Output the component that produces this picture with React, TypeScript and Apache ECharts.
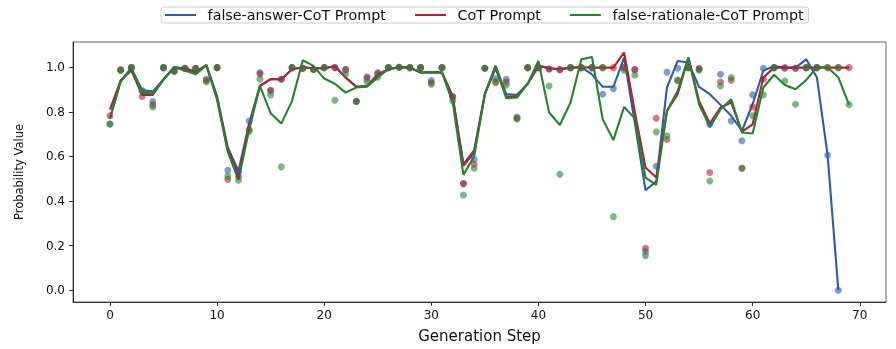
import React, { useEffect, useRef } from "react";
import * as echarts from "echarts";

const steps = [0,1,2,3,4,5,6,7,8,9,10,11,12,13,14,15,16,17,18,19,20,21,22,23,24,25,26,27,28,29,30,31,32,33,34,35,36,37,38,39,40,41,42,43,44,45,46,47,48,49,50,51,52,53,54,55,56,57,58,59,60,61,62,63,64,65,66,67,68,69];

const seriesNames = ["false-answer-CoT Prompt", "CoT Prompt", "false-rationale-CoT Prompt"];
const xTicks = [0, 10, 20, 30, 40, 50, 60, 70];
const yTicks = [0, 0.2, 0.4, 0.6, 0.8, 1.0];

// smoothed lines
const lineAnswer = [0.77,0.94,0.995,0.897,0.891,0.945,1.0,0.993,0.975,1.009,0.87,0.64,0.535,0.75,0.916,0.946,0.946,0.991,1.0,0.995,0.995,1.004,0.954,0.912,0.916,0.968,0.991,1.0,0.998,0.976,0.978,0.976,0.87,0.565,0.628,0.879,1.006,0.879,0.876,0.926,1.005,0.995,0.991,0.998,1.0,0.968,0.912,0.912,1.043,0.75,0.448,0.488,0.909,1.028,1.021,0.912,0.879,0.831,0.782,0.715,0.834,0.985,1.004,0.998,0.998,1.035,0.954,0.605,0.0];
const lineCot = [0.81,0.94,0.985,0.876,0.876,0.945,1.0,0.995,0.98,1.009,0.86,0.63,0.514,0.74,0.916,0.946,0.946,0.991,1.0,0.995,0.995,1.004,0.954,0.912,0.916,0.965,0.991,1.0,0.998,0.976,0.978,0.976,0.864,0.558,0.617,0.879,0.995,0.868,0.868,0.926,1.007,0.995,0.991,0.998,1.0,0.998,0.998,0.998,1.066,0.8,0.55,0.505,0.804,0.879,1.043,0.849,0.748,0.819,0.841,0.711,0.744,0.954,0.998,0.998,0.998,0.998,0.998,0.998,0.998,0.998];
const lineRationale = [0.77,0.935,0.995,0.886,0.882,0.945,1.0,0.985,0.968,1.009,0.855,0.62,0.495,0.72,0.916,0.794,0.747,0.849,1.031,1.006,0.949,0.926,0.886,0.909,0.912,0.954,0.991,1.0,0.998,0.976,0.978,0.976,0.841,0.517,0.6,0.879,1.006,0.861,0.864,0.926,1.028,0.797,0.741,0.842,1.035,1.046,0.767,0.673,0.822,0.77,0.505,0.472,0.804,0.894,1.043,0.834,0.731,0.811,0.856,0.707,0.703,0.909,0.966,0.92,0.901,0.942,1.0,1.0,0.954,0.832];

// raw points
const dotsAnswer = [0.745,0.988,0.998,0.894,0.846,0.998,0.982,0.995,0.995,0.946,0.998,0.538,0.53,0.759,0.976,0.894,0.946,0.998,0.995,0.99,0.998,0.998,0.989,0.848,0.957,0.976,0.998,1.0,0.998,0.998,0.94,0.998,0.867,0.478,0.587,0.995,0.949,0.946,0.777,0.998,0.998,0.992,0.989,0.998,0.998,0.998,0.879,0.904,0.998,0.99,0.173,0.556,0.978,0.995,0.998,0.995,0.744,0.968,0.759,0.67,0.876,0.995,0.998,0.995,0.995,0.998,0.998,0.605,0.0];
const dotsCot = [0.782,0.988,0.998,0.869,0.831,0.998,0.982,0.995,0.995,0.94,0.998,0.497,0.51,0.72,0.969,0.897,0.946,0.998,0.995,0.99,0.998,0.998,0.989,0.846,0.951,0.97,0.998,1.0,0.998,0.998,0.93,0.998,0.867,0.478,0.565,0.995,0.93,0.933,0.771,0.998,0.998,0.992,0.989,0.998,0.998,0.998,0.998,0.998,0.998,0.989,0.188,0.771,0.676,0.94,0.998,0.992,0.528,0.934,0.942,0.547,0.822,0.946,0.998,0.998,0.995,0.998,0.998,0.998,0.998,0.998];
const dotsRationale = [0.745,0.985,0.998,0.894,0.822,0.998,0.982,0.995,0.993,0.935,0.998,0.512,0.493,0.712,0.946,0.876,0.553,0.998,0.995,0.99,0.998,0.852,0.968,0.846,0.935,0.955,0.998,1.0,0.998,0.998,0.924,0.998,0.849,0.427,0.547,0.995,0.937,0.92,0.768,0.998,0.998,0.916,0.52,0.998,0.998,0.998,0.998,0.33,0.986,0.965,0.155,0.71,0.692,0.942,0.998,0.986,0.49,0.916,0.954,0.547,0.782,0.876,0.998,0.938,0.834,0.998,0.998,0.998,0.998,0.832];

const colors = ["#2a5db0", "#b5202a", "#21882a"];
const FONT = "DejaVu Sans";

function pairs(vals: number[]) {
  return vals.map((v, i) => [steps[i], v]);
}

export default function App() {
  const ref = useRef<HTMLDivElement>(null);
  useEffect(() => {
    if (!ref.current) return;
    const chart = echarts.init(ref.current, null, { renderer: "svg" });
    const lines = [lineAnswer, lineCot, lineRationale];
    const dots = [dotsAnswer, dotsCot, dotsRationale];
    const series: any[] = [];
    for (let k = 0; k < 3; k++) {
      series.push({
        name: seriesNames[k],
        type: "line",
        data: pairs(lines[k]),
        showSymbol: false,
        symbol: "none",
        lineStyle: { color: colors[k], width: 2.1 },
        itemStyle: { color: colors[k] },
        z: 3 + k,
        silent: true,
      });
    }
    for (let k = 0; k < 3; k++) {
      series.push({
        name: seriesNames[k] + " points",
        type: "scatter",
        data: pairs(dots[k]),
        symbolSize: 7,
        itemStyle: { color: colors[k], opacity: 0.6 },
        z: 10 + k,
        silent: true,
      });
    }
    chart.setOption({
      animation: false,
      textStyle: { fontFamily: FONT },
      legend: {
        data: seriesNames,
        top: 7,
        left: 161,
        icon: "rect",
        itemWidth: 31,
        itemHeight: 2,
        itemGap: 29,
        padding: [1, 5, 1, 4],
        borderColor: "#cccccc",
        borderWidth: 1,
        borderRadius: 3,
        textStyle: { fontFamily: FONT, fontSize: 14.3, color: "#111", padding: [0, 0, 0, 6.6] },
      },
      grid: {
        left: 73,
        right: 10,
        top: 42,
        bottom: 47,
        show: true,
        borderColor: "#666",
        borderWidth: 1,
        backgroundColor: "transparent",
      },
      xAxis: {
        type: "value",
        min: -3.45,
        max: 72.45,
        name: "Generation Step",
        nameLocation: "middle",
        nameGap: 26,
        nameTextStyle: { fontFamily: FONT, fontSize: 15, color: "#111" },
        splitLine: { show: false },
        axisLine: { show: true, onZero: false, lineStyle: { color: "#333", width: 1 } },
        axisTick: { show: true, length: 4, customValues: xTicks, lineStyle: { color: "#333" } },
        axisLabel: { customValues: xTicks, margin: 7, fontFamily: FONT, fontSize: 12, color: "#111" },
      },
      yAxis: {
        type: "value",
        min: -0.053,
        max: 1.113,
        name: "Probability Value",
        nameLocation: "middle",
        nameRotate: 90,
        nameGap: 48,
        nameTextStyle: { fontFamily: FONT, fontSize: 11.5, color: "#111" },
        splitLine: { show: false },
        axisLine: { show: true, onZero: false, lineStyle: { color: "#333", width: 1 } },
        axisTick: { show: true, length: 4, customValues: yTicks, lineStyle: { color: "#333" } },
        axisLabel: {
          customValues: yTicks,
          margin: 8,
          fontFamily: FONT,
          fontSize: 12,
          color: "#111",
          formatter: (v: number) => v.toFixed(1),
        },
      },
      series,
    });
    return () => chart.dispose();
  }, []);
  return <div ref={ref} style={{ position: "fixed", left: 0, top: 0, width: 896, height: 349 }} />;
}
